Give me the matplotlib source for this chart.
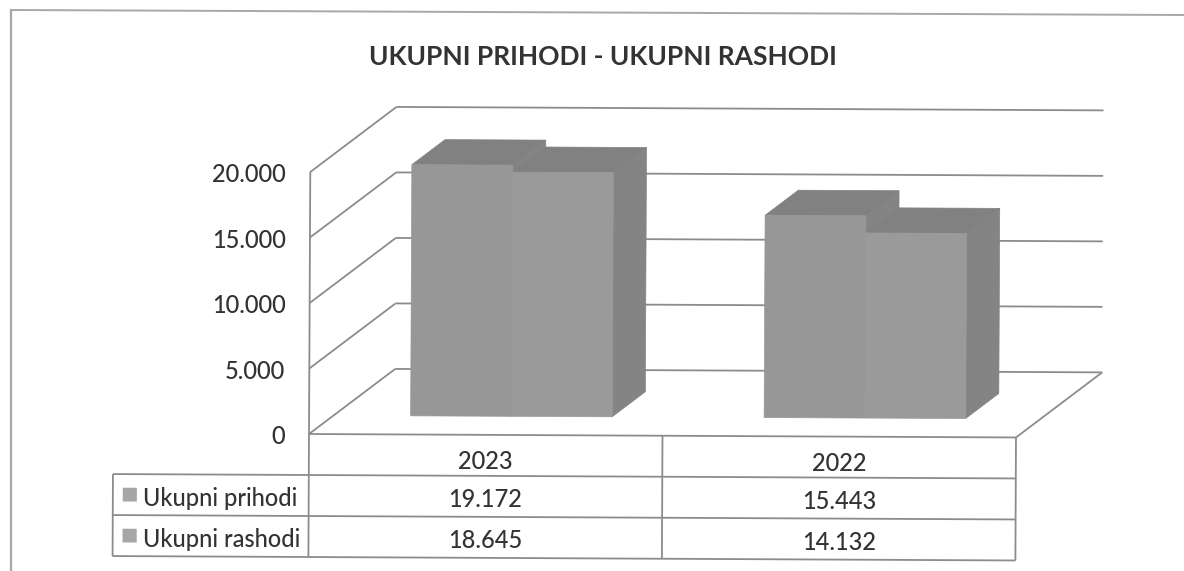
import matplotlib
matplotlib.use('Agg')
import matplotlib.pyplot as plt
from matplotlib.lines import Line2D
from matplotlib.patches import Polygon
from matplotlib.transforms import Affine2D

plt.rcParams['font.family'] = ['Lato', 'DejaVu Sans']
plt.rcParams['font.weight'] = 'medium'

title = 'UKUPNI PRIHODI - UKUPNI RASHODI'
years = ['2023', '2022']
series_names = ['Ukupni prihodi', 'Ukupni rashodi']
prihodi = [19172, 15443]
rashodi = [18645, 14132]
y_ticks = [0, 5000, 10000, 15000, 20000]

W, H = 1184, 571
fig = plt.figure(figsize=(W / 100, H / 100), dpi=100)
ax = fig.add_axes([309 / W, (H - 434) / H, 707 / W, 262 / H])
ax.set_xlim(0, 2)
ax.set_ylim(0, 20000)
ax.axis('off')

# the scan is a little crooked, so everything goes through this
tilt = ax.transData + Affine2D().rotate_deg_around(309, H - 434, -0.28)

# oblique depth: depth 1 is the back wall
DX = 0.243
DY = 5000
ROW = 3130
TABLE_LEFT = -0.554
LINE = '#8c8c8c'
TEXT = '#333333'


def pr(x, v, d=0.0):
    return x + d * DX, v + d * DY


def line(p0, p1, lw=1.3, color=LINE, z=1):
    ax.plot([p0[0], p1[0]], [p0[1], p1[1]], color=color, lw=lw, zorder=z,
            transform=tilt, clip_on=False, solid_capstyle='butt')


def fmt(v):
    return f'{v:,}'.replace(',', '.')


# walls
for v in y_ticks:
    line(pr(0, v, 0), pr(0, v, 1))
    line(pr(0, v, 1), pr(2, v, 1))
    ax.text(-0.068, v - 230, fmt(v), ha='right', va='center', fontsize=17,
            color=TEXT, transform=tilt, clip_on=False)
line(pr(0, 0), pr(0, 20000))
line(pr(0, 0), pr(2, 0))
line(pr(2, 0, 0), pr(2, 0, 1))

# bars
BAR_W = 0.285
BAR_SHIFT = 0.003
D0, D1 = 0.285, 0.67
FRONT = ['#979797', '#9a9a9a']
SIDE = '#848484'
TOP = '#818181'


def bar(x0, v, front):
    x1 = x0 + BAR_W
    side_pts = [pr(x1, 0, D0), pr(x1, 0, D1), pr(x1, v, D1), pr(x1, v, D0)]
    top_pts = [pr(x0, v, D0), pr(x1, v, D0), pr(x1, v, D1), pr(x0, v, D1)]
    front_pts = [pr(x0, 0, D0), pr(x1, 0, D0), pr(x1, v, D0), pr(x0, v, D0)]
    for pts, col in [(side_pts, SIDE), (top_pts, TOP), (front_pts, front)]:
        ax.add_patch(Polygon(pts, closed=True, facecolor=col, edgecolor=col,
                             lw=0.5, transform=tilt, clip_on=False, zorder=3))


for i in range(len(years)):
    center = i + 0.5 + BAR_SHIFT
    bar(center - BAR_W, prihodi[i], FRONT[0])
    bar(center, rashodi[i], FRONT[1])

# data table under the plot
for r in range(1, 4):
    line((TABLE_LEFT, -ROW * r), (2, -ROW * r))
line((TABLE_LEFT, -ROW), (TABLE_LEFT, -ROW * 3))
for x in [0, 1, 2]:
    line((x, 0), (x, -ROW * 3))

for i, year in enumerate(years):
    ax.text(i + 0.5, -ROW * 0.5 - 480, year, ha='center', va='center', fontsize=17,
            color=TEXT, transform=tilt, clip_on=False)
    for r, vals in enumerate([prihodi, rashodi]):
        ax.text(i + 0.5, -ROW * (r + 1.5) - 230, fmt(vals[i]), ha='center', va='center',
                fontsize=17, color=TEXT, transform=tilt, clip_on=False)

for r, name in enumerate(series_names):
    yc = -ROW * (r + 1.5)
    box_w, box_h = 0.04, 1050
    xb = TABLE_LEFT + 0.028
    ax.add_patch(Polygon([(xb, yc - box_h / 2), (xb + box_w, yc - box_h / 2),
                          (xb + box_w, yc + box_h / 2), (xb, yc + box_h / 2)],
                         closed=True, facecolor='#a6a6a6', edgecolor='none',
                         transform=tilt, clip_on=False))
    ax.text(TABLE_LEFT + 0.086, yc - 260, name, ha='left', va='center', fontsize=17,
            color=TEXT, transform=tilt, clip_on=False)

fig.text(603 / W, 1 - 57 / H, title, ha='center', va='center', fontsize=19,
         fontweight='bold', color=TEXT)

# chart frame, top and left edges only
frame = '#a8a8a8'
fig.add_artist(Line2D([11 / W, 1], [1 - 10 / H, 1 - 15 / H], color=frame, lw=1.4))
fig.add_artist(Line2D([11 / W, 11 / W], [1 - 10 / H, 0], color=frame, lw=1.6))

fig.savefig('out.png', dpi=100)
